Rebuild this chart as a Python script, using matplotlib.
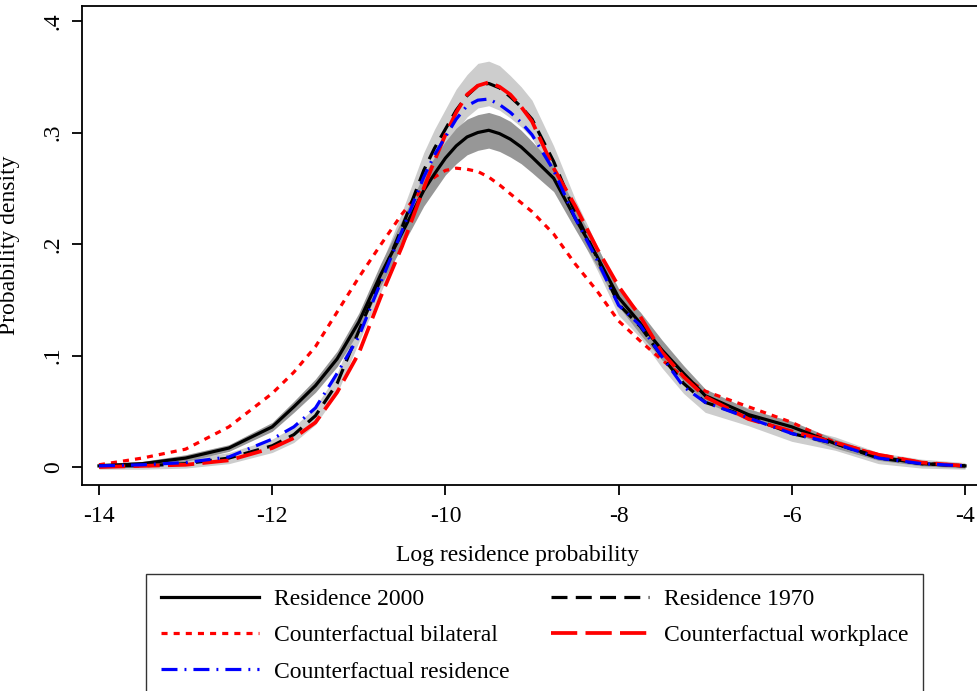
import matplotlib
matplotlib.use("Agg")
import matplotlib.pyplot as plt

plt.rcParams.update({
    "font.family": "serif",
    "font.serif": ["Liberation Serif", "DejaVu Serif"],
    "font.size": 17,
    "axes.linewidth": 1.3,
})

# ---- data ------------------------------------------------------------------
log_prob = [-14, -13.5, -13, -12.5, -12, -11.75, -11.5, -11.25, -11, -10.75,
            -10.5, -10.25, -10.125, -10, -9.875, -9.75, -9.625, -9.5, -9.375,
            -9.25, -9.125, -9, -8.75, -8.5, -8.25,
            -8, -7.75, -7.5, -7.25, -7, -6.5, -6, -5.5, -5, -4.5, -4]

res_2000 = [0.001, 0.003, 0.008, 0.017, 0.036, 0.054, 0.073, 0.097, 0.130, 0.172,
            0.210, 0.248, 0.263, 0.277, 0.288, 0.296, 0.300, 0.302, 0.299,
            0.294, 0.287, 0.278, 0.259, 0.223, 0.189,
            0.152, 0.129, 0.105, 0.084, 0.064, 0.047, 0.036, 0.021, 0.009, 0.003, 0.001]
res_2000_hw = [0.002, 0.002, 0.003, 0.003, 0.004, 0.005, 0.006, 0.007, 0.008, 0.010,
               0.012, 0.014, 0.015, 0.015, 0.016, 0.016, 0.016, 0.016, 0.016,
               0.016, 0.015, 0.014, 0.012, 0.010, 0.009,
               0.008, 0.010, 0.009, 0.007, 0.006, 0.005, 0.005, 0.004, 0.003, 0.002, 0.002]

res_1970 = [0.001, 0.001, 0.003, 0.008, 0.019, 0.029, 0.046, 0.075, 0.122, 0.168,
            0.215, 0.266, 0.286, 0.303, 0.320, 0.333, 0.342, 0.344, 0.340,
            0.332, 0.323, 0.312, 0.274, 0.228, 0.188,
            0.146, 0.126, 0.099, 0.075, 0.058, 0.045, 0.030, 0.021, 0.008, 0.003, 0.001]
res_1970_hw = [0.003, 0.003, 0.004, 0.005, 0.006, 0.007, 0.008, 0.009, 0.010, 0.012,
               0.014, 0.016, 0.017, 0.018, 0.019, 0.019, 0.020, 0.020, 0.020,
               0.019, 0.018, 0.017, 0.014, 0.012, 0.011,
               0.010, 0.010, 0.010, 0.009, 0.009, 0.008, 0.007, 0.006, 0.005, 0.004, 0.003]

cf_bilateral = [0.002, 0.008, 0.016, 0.036, 0.066, 0.085, 0.108, 0.139, 0.170, 0.199,
                0.227, 0.251, 0.260, 0.266, 0.268, 0.267, 0.265, 0.260, 0.253,
                0.245, 0.237, 0.229, 0.209, 0.182, 0.158,
                0.131, 0.113, 0.096, 0.081, 0.068, 0.054, 0.040, 0.022, 0.011, 0.004, 0.001]

cf_workplace = [0.000, 0.001, 0.002, 0.006, 0.017, 0.026, 0.040, 0.067, 0.102, 0.152,
                0.198, 0.250, 0.275, 0.298, 0.318, 0.334, 0.342, 0.345, 0.341,
                0.334, 0.323, 0.310, 0.268, 0.234, 0.196,
                0.162, 0.135, 0.103, 0.081, 0.063, 0.043, 0.032, 0.022, 0.011, 0.004, 0.001]

cf_residence = [0.001, 0.002, 0.004, 0.009, 0.025, 0.036, 0.053, 0.084, 0.117, 0.165,
                0.212, 0.260, 0.280, 0.296, 0.312, 0.324, 0.329, 0.330, 0.325,
                0.318, 0.309, 0.298, 0.266, 0.223, 0.186,
                0.145, 0.127, 0.099, 0.072, 0.058, 0.044, 0.030, 0.021, 0.008, 0.003, 0.001]

x_ticks = [-14, -12, -10, -8, -6, -4]
x_tick_labels = ["-14", "-12", "-10", "-8", "-6", "-4"]
y_ticks = [0, 0.1, 0.2, 0.3, 0.4]
y_tick_labels = ["0", ".1", ".2", ".3", ".4"]

# ---- figure ----------------------------------------------------------------
fig = plt.figure(figsize=(9.78, 6.91), dpi=100)
ax = fig.add_axes([82 / 978, 1 - 485 / 691, 1 - 82 / 978, (485 - 6) / 691])

lo70 = [m - h for m, h in zip(res_1970, res_1970_hw)]
hi70 = [m + h for m, h in zip(res_1970, res_1970_hw)]
lo00 = [m - h for m, h in zip(res_2000, res_2000_hw)]
hi00 = [m + h for m, h in zip(res_2000, res_2000_hw)]
ax.fill_between(log_prob, lo70, hi70, color="#cdcdcd", lw=0, zorder=1)
ax.fill_between(log_prob, lo00, hi00, color="#979797", lw=0, zorder=2)

lw = 2.3
common = dict(solid_joinstyle="round", dash_joinstyle="round")
ax.plot(log_prob, res_2000, color="black", lw=lw, ls="-", zorder=5,
        label="Residence 2000", **common)
ax.plot(log_prob, cf_bilateral, color="red", lw=lw, ls=(0, (1.9, 1.9)), zorder=4,
        label="Counterfactual bilateral", **common)
ax.plot(log_prob, cf_residence, color="blue", lw=lw, ls=(0, (5.0, 2.2, 0.6, 2.2)),
        zorder=6, label="Counterfactual residence", **common)
ax.plot(log_prob, res_1970, color="black", lw=lw, ls=(0, (5.0, 2.6)), zorder=5,
        label="Residence 1970", **common)
ax.plot(log_prob, cf_workplace, color="red", lw=lw + 0.4, ls=(0, (7.0, 2.2)),
        zorder=5, label="Counterfactual workplace", **common)

ax.set_xlim(-14 - 17 / 86.7, -4 + 13 / 86.7)
ax.set_ylim(-18 / 1115, 0.4 + 15 / 1115)
ax.set_xticks(x_ticks)
ax.set_xticklabels(x_tick_labels)
ax.set_yticks(y_ticks)
ax.set_yticklabels(y_tick_labels, rotation=90, va="center")
ax.tick_params(axis="both", direction="out", length=7, width=1.3, labelsize=17)
ax.tick_params(axis="x", pad=8)
ax.tick_params(axis="y", pad=6)
ax.spines["right"].set_visible(False)

ax.set_xlabel("Log residence probability", fontsize=17)
ax.xaxis.set_label_coords((518 - 82) / (978 - 82), (485 - 545) / (485 - 6))
ax.set_ylabel("Probability density", fontsize=17)
ax.yaxis.set_label_coords((20 - 82) / (978 - 82), 0.5)

handles, labels = ax.get_legend_handles_labels()
leg = fig.legend(handles, labels, ncol=2, loc="upper left",
                 bbox_to_anchor=(146 / 978, 1 - 574 / 691), borderaxespad=0,
                 frameon=True, fancybox=False, edgecolor="black", fontsize=17,
                 handlelength=4.15, handletextpad=0.65, columnspacing=1.75,
                 borderpad=0.62, labelspacing=0.62)
leg.get_frame().set_linewidth(1.0)

fig.savefig("out.png", dpi=100, facecolor="white")
